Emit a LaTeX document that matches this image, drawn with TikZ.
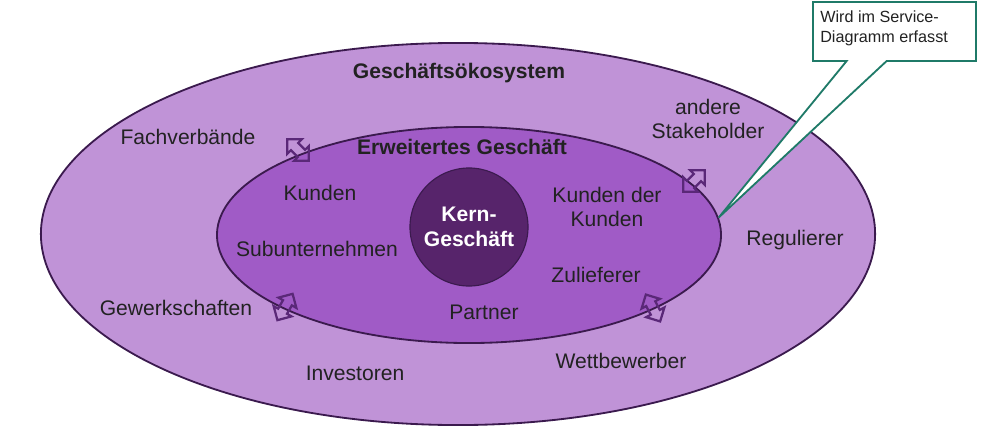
\documentclass[tikz,border=0pt]{standalone}
\usepackage{fontspec}
\setmainfont{Liberation Sans}
\usetikzlibrary{shapes,shapes.callouts,arrows,positioning}

\definecolor{ecofill}{HTML}{C093D7}
\definecolor{extfill}{HTML}{A05BC6}
\definecolor{corefill}{HTML}{57246B}
\definecolor{rimline}{HTML}{3B1A4E}
\definecolor{swapline}{HTML}{5A2878}
\definecolor{notegreen}{HTML}{1F7A68}
\definecolor{labeltext}{HTML}{222222}

\begin{document}
\begin{tikzpicture}[x=0.025cm, y=-0.025cm,
  lbl/.style={draw=none, text=labeltext, font=\fontsize{15}{17}\selectfont, align=center, inner sep=0pt},
  head/.style={lbl, font=\fontsize{15}{17.5}\selectfont\bfseries},
  swap/.style={double arrow, draw=swapline, line width=1.6pt, inner sep=0.1cm,
    minimum height=0.76cm, double arrow head extend=0.13cm, rotate=#1}]

\useasboundingbox (0,0) rectangle (990,427);

% Business ecosystem (outer ring)
\node[ellipse, draw=rimline, line width=1.3pt, fill=ecofill, inner sep=0pt,
  minimum width=20.85cm, minimum height=9.55cm] (eco) at (458,234) {};

% Extended business (inner ring)
\node[ellipse, draw=rimline, line width=1.3pt, fill=extfill, inner sep=0pt,
  minimum width=12.6cm, minimum height=5.4cm] (ext) at (469,235) {};

% Core business
\node[circle, draw=rimline, line width=0.8pt, fill=corefill, inner sep=0pt,
  minimum size=2.95cm] (core) at (469,227) {};
\node[head, text=white] (coretxt) at (core) {Kern-\\Geschäft};

% Exchange arrows across the inner ring
\node[swap=135] (swapnw) at (298,150) {};
\node[swap=45]  (swapne) at (694,181) {};
\node[swap=60]  (swapsw) at (285,307) {};
\node[swap=118] (swapse) at (653,308) {};

% Ring titles
\node[head] (ecotitle) at (459,73) {Geschäftsökosystem};
\node[head] (exttitle) at (462,147) {Erweitertes Geschäft};

% Inner ring members
\node[lbl] (kunden) at (320,193) {Kunden};
\node[lbl] (kdk) at (607,207) {Kunden der\\Kunden};
\node[lbl] (subunt) at (317,249) {Subunternehmen};
\node[lbl] (zuliefer) at (596,275) {Zulieferer};
\node[lbl] (partner) at (484,312) {Partner};

% Outer ring members
\node[lbl] (fachverb) at (188,137) {Fachverbände};
\node[lbl] (stakeh) at (708,119) {andere\\Stakeholder};
\node[lbl] (regul) at (795,240) {Regulierer};
\node[lbl] (gewerk) at (176,308) {Gewerkschaften};
\node[lbl] (invest) at (355,373) {Investoren};
\node[lbl] (wettbew) at (621,361) {Wettbewerber};

% Note pointing at the extended business ring
\node[rectangle callout, draw=notegreen, line width=1.3pt, fill=white,
  minimum width=4.075cm, minimum height=1.475cm, inner sep=0pt,
  callout absolute pointer={(ext.4)}, callout pointer width=1cm] (note) at (894.5,31.5) {};
\node[lbl, anchor=north west, align=left, font=\fontsize{11.5}{14}\selectfont]
  (notetxt) at (820,11) {Wird im Service-\\Diagramm erfasst};

\end{tikzpicture}
\end{document}
